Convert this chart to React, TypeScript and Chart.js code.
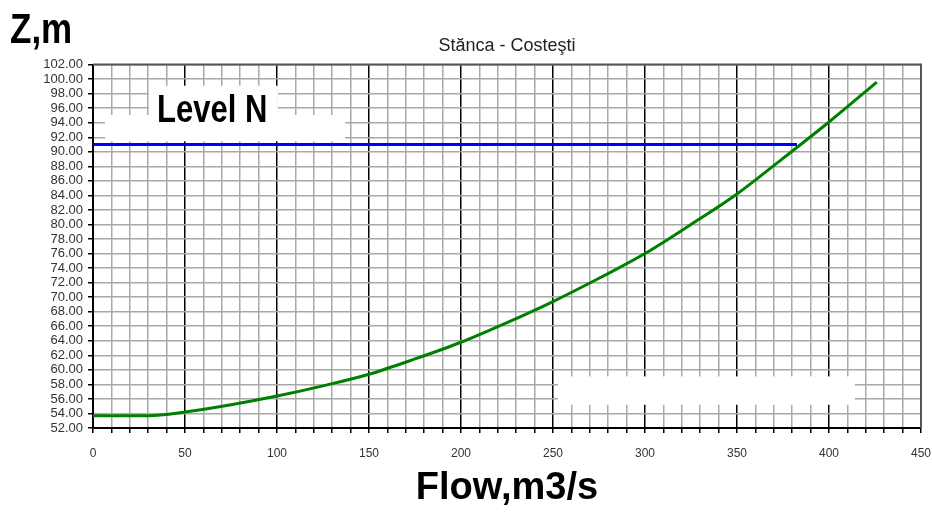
import React, { useEffect, useRef } from "react";
import { Chart, registerables } from "chart.js";

Chart.register(...registerables);

// ---- data ----
const flowQ = [0, 30, 50, 75, 100, 125, 150, 175, 200, 225, 250, 275, 300, 325, 350, 375, 400, 426];
const levelZ = [53.7, 53.7, 54.2, 55.2, 56.4, 57.8, 59.4, 61.5, 63.8, 66.5, 69.4, 72.6, 76.0, 80.0, 84.2, 89.1, 94.1, 99.6];
const levelNQ = [0, 382.6];
const levelNZ = [91, 91];

const chartTitle = "Stănca - Costeşti";
const yAxisLabel = "Z,m";
const xAxisLabel = "Flow,m3/s";
const levelLabel = "Level N";

const X_MIN = 0;
const X_MAX = 450;
const Y_MIN = 52;
const Y_MAX = 102;

// white masking boxes (in data units) that hide parts of the grid
const maskQ0 = [30.4, 6.5, 252.7];
const maskQ1 = [100.5, 137, 414];
const maskZ0 = [93.25, 91.44, 55.2];
const maskZ1 = [99.1, 95.06, 59.1];

// "Level N" label anchor in data units
const levelLabelQ = 34.8;
const levelLabelZ = 94.1;

const FONT = "'Liberation Sans', Arial, Helvetica, sans-serif";

const overlayPlugin = {
  id: "overlay",
  beforeDatasetsDraw(chart: any) {
    const { ctx, chartArea } = chart;
    const x = chart.scales.x;
    const y = chart.scales.y;
    ctx.save();
    ctx.fillStyle = "#ffffff";
    for (let i = 0; i < maskQ0.length; i++) {
      const x0 = x.getPixelForValue(maskQ0[i]);
      const x1 = x.getPixelForValue(maskQ1[i]);
      const y0 = y.getPixelForValue(maskZ1[i]);
      const y1 = y.getPixelForValue(maskZ0[i]);
      ctx.fillRect(x0, y0, x1 - x0, y1 - y0);
    }
    ctx.strokeStyle = "#555555";
    ctx.lineWidth = 2;
    ctx.beginPath();
    ctx.moveTo(chartArea.left, chartArea.top);
    ctx.lineTo(chartArea.right, chartArea.top);
    ctx.lineTo(chartArea.right, chartArea.bottom);
    ctx.stroke();
    ctx.restore();
  },
  afterDatasetsDraw(chart: any) {
    const { ctx } = chart;
    const x = chart.scales.x;
    const y = chart.scales.y;
    const px = x.getPixelForValue(levelLabelQ);
    const py = y.getPixelForValue(levelLabelZ);
    ctx.save();
    ctx.translate(px, py);
    ctx.scale(1, 1.25);
    ctx.fillStyle = "#000000";
    ctx.font = `bold 31px ${FONT}`;
    ctx.textAlign = "left";
    ctx.textBaseline = "alphabetic";
    ctx.fillText(levelLabel, 0, 0);
    ctx.restore();
  },
  afterDraw(chart: any) {
    const { ctx } = chart;
    ctx.save();
    ctx.translate(10, 43);
    ctx.scale(1, 1.2);
    ctx.fillStyle = "#000000";
    ctx.font = `bold 35px ${FONT}`;
    ctx.textAlign = "left";
    ctx.textBaseline = "alphabetic";
    ctx.fillText(yAxisLabel, 0, 0);
    ctx.restore();
  },
};

export default function App() {
  const canvasRef = useRef<HTMLCanvasElement | null>(null);

  useEffect(() => {
    document.body.style.margin = "0";
    const canvas = canvasRef.current;
    if (!canvas) return;
    Chart.defaults.font.family = FONT;

    const curve = flowQ.map((q, i) => ({ x: q, y: levelZ[i] }));
    const levelN = levelNQ.map((q, i) => ({ x: q, y: levelNZ[i] }));

    const chart = new Chart(canvas, {
      type: "line",
      data: {
        datasets: [
          {
            label: "Level N",
            data: levelN,
            borderColor: "#0000ff",
            borderWidth: 3,
            pointRadius: 0,
            fill: false,
          },
          {
            label: "Z(Q)",
            data: curve,
            borderColor: "#008000",
            borderWidth: 3,
            pointRadius: 0,
            fill: false,
            cubicInterpolationMode: "monotone",
          },
        ],
      },
      options: {
        responsive: false,
        animation: false,
        maintainAspectRatio: false,
        layout: { padding: { top: 35, right: 11, left: 0, bottom: 0 } },
        plugins: {
          legend: { display: false },
          tooltip: { enabled: false },
          title: {
            display: true,
            text: chartTitle,
            fullSize: false,
            color: "#222222",
            font: { size: 18, weight: "normal", family: FONT },
            padding: { top: 0, bottom: 8 },
          },
        },
        scales: {
          x: {
            type: "linear",
            min: X_MIN,
            max: X_MAX,
            afterFit: (s: any) => {
              s.height = 85;
              s.paddingLeft = 0;
              s.paddingRight = 0;
            },
            border: { display: true, color: "#000000", width: 2 },
            grid: {
              color: (c: any) => (c.tick && c.tick.value % 50 === 0 ? "#000000" : "#a8a8a8"),
              lineWidth: 1.5,
              tickColor: "#000000",
              tickLength: 5,
            },
            ticks: {
              stepSize: 10,
              autoSkip: false,
              maxRotation: 0,
              minRotation: 0,
              padding: 13,
              color: "#333333",
              font: { size: 12, family: FONT },
              callback: (v: any) => (Number(v) % 50 === 0 ? String(v) : ""),
            },
            title: {
              display: true,
              text: xAxisLabel,
              color: "#000000",
              font: { size: 38, weight: "bold", family: FONT },
              padding: { top: 0, bottom: 2 },
            },
          },
          y: {
            type: "linear",
            min: Y_MIN,
            max: Y_MAX,
            afterFit: (s: any) => {
              s.width = 93;
            },
            border: { display: true, color: "#000000", width: 2 },
            grid: {
              color: "#a8a8a8",
              lineWidth: 1.5,
              tickColor: "#000000",
              tickLength: 5,
            },
            ticks: {
              stepSize: 2,
              autoSkip: false,
              padding: 5,
              color: "#333333",
              font: { size: 13, family: FONT },
              callback: (v: any) => Number(v).toFixed(2),
            },
          },
        },
      },
      plugins: [overlayPlugin],
    });

    return () => {
      chart.destroy();
    };
  }, []);

  return (
    <div style={{ position: "absolute", left: 0, top: 0, width: 932, height: 513, background: "#fff" }}>
      <canvas ref={canvasRef} width={932} height={513} style={{ display: "block" }} />
    </div>
  );
}
